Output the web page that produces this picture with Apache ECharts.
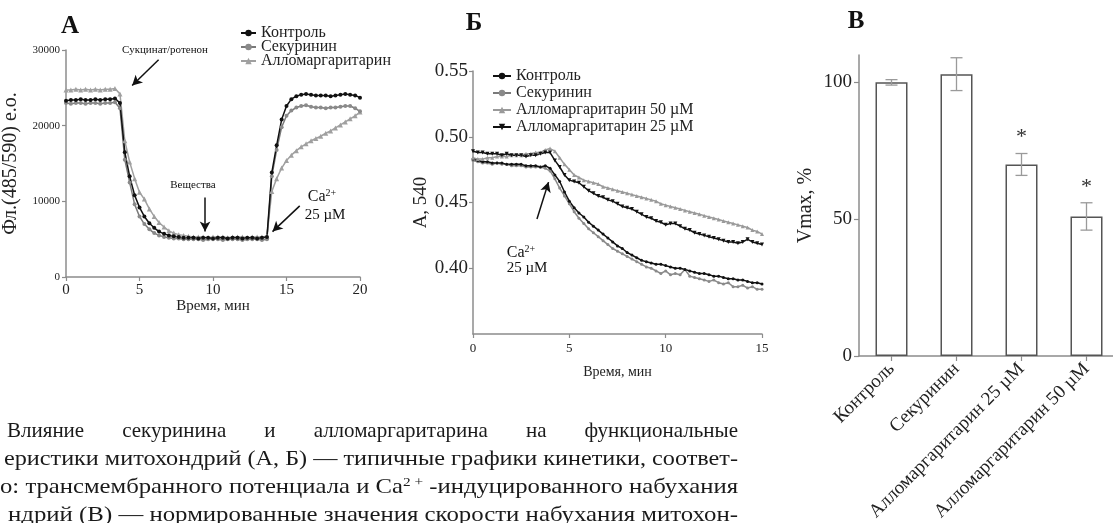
<!DOCTYPE html>
<html><head><meta charset="utf-8">
<script src="https://cdn.jsdelivr.net/npm/echarts@6/dist/echarts.min.js"></script>
<style>html,body{margin:0;padding:0;background:#fff}#c{width:1113px;height:523px}</style>
</head><body><div id="c"></div>
<script>
// ---------- Panel A: membrane potential (fluorescence) ----------
const timeA = [0,0.33,0.67,1,1.33,1.67,2,2.33,2.67,3,3.33,3.67,4,4.33,4.67,5,5.33,5.67,6,6.33,6.67,7,7.33,7.67,8,8.33,8.67,9,9.33,9.67,10,10.33,10.67,11,11.33,11.67,12,12.33,12.67,13,13.33,13.67,14,14.33,14.67,15,15.33,15.67,16,16.33,16.67,17,17.33,17.67,18,18.33,18.67,19,19.33,19.67,20];
const fluoControl = [23300,23400,23400,23500,23400,23400,23500,23400,23500,23500,23600,23000,16500,13300,10800,9200,8000,7100,6500,6000,5700,5500,5400,5300,5200,5200,
  5200,5100,5200,5200,5100,5200,5200,5100,5200,5200,5100,5200,5200,5100,5200,
  5300,13800,17400,20800,22600,23500,23900,24100,24200,24100,24000,24000,24000,23900,24000,24100,24200,24100,24000,23700];
const fluoSecur = [23000,22900,23000,23000,22900,23000,23000,22900,23000,23000,23100,22300,15500,12500,9600,8000,7000,6300,5800,5500,5300,5200,5100,5100,5000,5000,
  5000,5000,4900,5000,5000,5000,4900,5000,5000,5000,4900,5000,5000,5000,4900,
  5000,13300,16800,19800,21300,22000,22400,22600,22700,22500,22400,22400,22300,22400,22400,22500,22600,22600,22300,21900];
const fluoAllo = [24700,24700,24800,24700,24800,24700,24800,24700,24800,24800,24900,24200,18000,15200,13000,11200,10300,9000,8000,7200,6600,6100,5800,5600,5500,5400,
  5300,5300,5300,5200,5300,5300,5300,5200,5300,5300,5300,5200,5300,5300,5300,
  5400,11300,13000,14400,15400,16100,16700,17200,17600,18000,18300,18600,19000,19300,19700,20100,20500,20900,21300,21800];
const namesA = ['Контроль','Секуринин','Алломаргаритарин'];

// ---------- Panel Б: Ca-induced swelling (A540) ----------
const timeB = [0,0.25,0.5,0.75,1,1.25,1.5,1.75,2,2.25,2.5,2.75,3,3.25,3.5,3.75,4,4.25,4.5,4.75,5,5.25,5.5,5.75,6,6.25,6.5,6.75,7,7.25,7.5,7.75,8,8.25,8.5,8.75,9,9.25,9.5,9.75,10,10.25,10.5,10.75,11,11.25,11.5,11.75,12,12.25,12.5,12.75,13,13.25,13.5,13.75,14,14.25,14.5,14.75,15];
const absControl = [.483,.482,.481,.481,.480,.480,.480,.479,.479,.479,.479,.478,.478,.478,.477,.478,
  .476,.471,.466,.458,.451,.446,.442,.439,.435,.432,.429,.426,.423,.420,.417,.415,.412,.410,.408,.406,.405,.404,.403,.403,.402,.401,.400,.400,.399,.398,.397,.396,.396,.395,.394,.394,.393,.392,.392,.391,.391,.390,.389,.389,.388];
const absSecur = [.482,.481,.480,.480,.479,.480,.479,.479,.478,.478,.478,.477,.477,.477,.477,.476,
  .474,.468,.461,.455,.449,.443,.438,.434,.430,.427,.424,.421,.418,.415,.413,.411,.409,.407,.405,.403,.401,.400,.398,.396,.398,.395,.396,.395,.399,.394,.393,.392,.391,.390,.391,.389,.388,.389,.386,.386,.387,.385,.386,.384,.384];
const absAllo50 = [.484,.483,.483,.484,.484,.485,.485,.485,.486,.486,.486,.487,.487,.488,.488,.490,
  .491,.489,.484,.479,.475,.471,.469,.467,.466,.465,.464,.462,.461,.460,.459,.458,.457,.456,.455,.454,.453,.452,.451,.449,.448,.447,.446,.445,.444,.443,.442,.441,.440,.439,.438,.437,.436,.435,.434,.433,.432,.431,.429,.428,.426];
const absAllo25 = [.489,.488,.488,.487,.487,.487,.486,.487,.486,.486,.486,.485,.486,.486,.487,.488,
  .488,.482,.477,.471,.467,.466,.465,.462,.459,.457,.455,.454,.452,.451,.449,.447,.446,.445,.443,.441,.439,.438,.436,.435,.433,.434,.434,.432,.430,.429,.427,.426,.425,.424,.423,.422,.421,.420,.420,.419,.420,.422,.420,.419,.418];
const namesB = ['Контроль','Секуринин','Алломаргаритарин 50 µM','Алломаргаритарин 25 µM'];
const ticksB = [0.40,0.45,0.50,0.55];

// ---------- Panel В: normalised Vmax ----------
const catsC = ['Контроль','Секуринин','Алломаргаритарин 25 µM','Алломаргаритарин 50 µM'];
const vmax = [100,103,70,51];
const vmaxErr = [1,6,4,5];
const vmaxSig = [0,0,1,1];
const ticksC = [0,50,100];

// ---------- Caption ----------
const capWords1 = ['Влияние','секуринина','и','алломаргаритарина','на','функциональные'];
const capLine2 = 'еристики митохондрий (А, Б) — типичные графики кинетики, соответ-';
const capLine3a = 'о: трансмембранного потенциала и Ca';
const capLine3sup = '2 +';
const capLine3b = ' -индуцированного набухания';
const capLine4 = 'ндрий (В) — нормированные значения скорости набухания митохон-';

const FF = '"Liberation Serif", "Times New Roman", serif';
const AX = '#8c8c8c';
const TX = '#222';

const pairs = (xs, ys) => xs.map((x, i) => [x, ys[i]]);
const mctx = document.createElement('canvas').getContext('2d');
function tw(t, size) { mctx.font = size + 'px ' + FF; return mctx.measureText(t).width; }

const chart = echarts.init(document.getElementById('c'), null, {renderer: 'canvas'});

function axisCommon(extra) {
  return Object.assign({
    axisLine: {show: true, lineStyle: {color: AX, width: 1.5}},
    axisTick: {show: true, length: 4, lineStyle: {color: AX, width: 1.2}},
    splitLine: {show: false},
    nameTextStyle: {fontFamily: FF, color: TX}
  }, extra);
}

const arrowStyle = {color: '#111', width: 1.5, type: 'solid'};

const series = [
  // Panel A
  {name: namesA[2], type: 'line', xAxisIndex: 0, yAxisIndex: 0, data: pairs(timeA, fluoAllo),
   symbol: 'triangle', symbolSize: 5, lineStyle: {color: '#a0a0a0', width: 1.5}, itemStyle: {color: '#a0a0a0'},
   markLine: {silent: true, symbol: ['none', 'arrow'], symbolSize: [8, 10], lineStyle: arrowStyle, label: {show: false},
     data: [
       [{coord: [6.3, 28700]}, {coord: [4.5, 25300]}],
       [{coord: [9.46, 10500]}, {coord: [9.46, 6000]}],
       [{coord: [15.9, 9400]}, {coord: [14.05, 6000]}]
     ]}},
  {name: namesA[1], type: 'line', xAxisIndex: 0, yAxisIndex: 0, data: pairs(timeA, fluoSecur),
   symbol: 'circle', symbolSize: 4, lineStyle: {color: '#7a7a7a', width: 1.5}, itemStyle: {color: '#8a8a8a'}},
  {name: namesA[0], type: 'line', xAxisIndex: 0, yAxisIndex: 0, data: pairs(timeA, fluoControl),
   symbol: 'circle', symbolSize: 4, lineStyle: {color: '#111', width: 1.5}, itemStyle: {color: '#111'}},
  // Panel Б
  {name: namesB[1], type: 'line', xAxisIndex: 1, yAxisIndex: 1, data: pairs(timeB, absSecur),
   symbol: 'circle', symbolSize: 3, lineStyle: {color: '#8a8a8a', width: 1.5}, itemStyle: {color: '#8a8a8a'}},
  {name: namesB[0], type: 'line', xAxisIndex: 1, yAxisIndex: 1, data: pairs(timeB, absControl),
   symbol: 'circle', symbolSize: 3, lineStyle: {color: '#111', width: 1.5}, itemStyle: {color: '#111'}},
  {name: namesB[2], type: 'line', xAxisIndex: 1, yAxisIndex: 1, data: pairs(timeB, absAllo50),
   symbol: 'triangle', symbolSize: 4, lineStyle: {color: '#9a9a9a', width: 1.5}, itemStyle: {color: '#9a9a9a'},
   markLine: {silent: true, symbol: ['none', 'arrow'], symbolSize: [8, 10], lineStyle: arrowStyle, label: {show: false},
     data: [[{coord: [3.32, 0.4375]}, {coord: [3.92, 0.4655]}]]}},
  {name: namesB[3], type: 'line', xAxisIndex: 1, yAxisIndex: 1, data: pairs(timeB, absAllo25),
   symbol: 'triangle', symbolRotate: 180, symbolSize: 4, lineStyle: {color: '#111', width: 1.5}, itemStyle: {color: '#111'}},
  // Panel В
  {name: 'Vmax', type: 'bar', xAxisIndex: 2, yAxisIndex: 2, data: vmax, barWidth: 32,
   itemStyle: {color: '#fff', borderColor: '#555', borderWidth: 1.5}},
  {name: 'err', type: 'custom', xAxisIndex: 2, yAxisIndex: 2, z: 5,
   data: vmax.map((v, i) => [i, v, vmaxErr[i], vmaxSig[i]]),
   renderItem: function (params, api) {
     const i = api.value(0), v = api.value(1), e = api.value(2), s = api.value(3);
     const hi = api.coord([i, v + e]), lo = api.coord([i, v - e]);
     const w = 6, st = {stroke: '#9a9a9a', lineWidth: 1.3};
     const ch = [
       {type: 'line', shape: {x1: hi[0], y1: hi[1], x2: lo[0], y2: lo[1]}, style: st},
       {type: 'line', shape: {x1: hi[0] - w, y1: hi[1], x2: hi[0] + w, y2: hi[1]}, style: st},
       {type: 'line', shape: {x1: lo[0] - w, y1: lo[1], x2: lo[0] + w, y2: lo[1]}, style: st}
     ];
     if (s) ch.push({type: 'text', x: hi[0], y: hi[1] - 16,
       style: {text: '*', font: '22px ' + FF, fill: '#333', align: 'center', verticalAlign: 'middle'}});
     return {type: 'group', children: ch};
   }}
];

// caption graphics
const graphics = [];
const capSize = 21, capRight = 738;
function capText(txt, x, y, scale, rich) {
  const g = {type: 'text', x: x, y: y, scaleX: scale, silent: true,
    style: {text: txt, font: capSize + 'px ' + FF, fill: '#1a1a1a', align: 'left', verticalAlign: 'middle'}};
  if (rich) g.style.rich = rich;
  graphics.push(g);
}
// line 1 justified
(function () {
  const x0 = 7, y = 431;
  const widths = capWords1.map(w => tw(w, capSize));
  const total = widths.reduce((a, b) => a + b, 0);
  const gap = (capRight - x0 - total) / (capWords1.length - 1);
  let x = x0;
  capWords1.forEach((w, i) => { capText(w, x, y, 1); x += widths[i] + gap; });
})();
capText(capLine2, 4, 459, (capRight - 4) / tw(capLine2, capSize));
(function () {
  const w = tw(capLine3a, capSize) + tw(capLine3sup, 13) + tw(capLine3b, capSize);
  capText(capLine3a + '{sup|' + capLine3sup + '}' + capLine3b, 0, 487, (capRight - 0) / w,
    {sup: {fontSize: 13, fontFamily: FF, verticalAlign: 'top', padding: [0, 0, 9, 0]}});
})();
capText(capLine4, 8, 515, (capRight - 8) / tw(capLine4, capSize));

// panel letters and annotations
function label(txt, x, y, size, bold, rich) {
  const g = {type: 'text', x: x, y: y, silent: true,
    style: {text: txt, font: (bold ? 'bold ' : '') + size + 'px ' + FF, fill: '#111', align: 'center', verticalAlign: 'middle'}};
  if (rich) g.style.rich = rich;
  graphics.push(g);
}
label('А', 70, 27, 25, true);
label('Б', 474, 24, 25, true);
label('В', 856, 22, 25, true);
label('Сукцинат/ротенон', 165, 50, 11, false);
label('Вещества', 193, 185, 11, false);
const supRich = {sup: {fontSize: 10, fontFamily: FF, verticalAlign: 'top', padding: [0, 0, 8, 0]}};
label('Ca{sup|2+}', 322, 197, 16, false, supRich);
label('25 µM', 325, 215, 15, false);
label('Ca{sup|2+}', 521, 253, 16, false, supRich);
label('25 µM', 527, 268, 15, false);

const option = {
  animation: false,
  backgroundColor: '#ffffff',
  textStyle: {fontFamily: FF},
  grid: [
    {left: 66, top: 50, width: 294, height: 227, outerBoundsMode: 'none', containLabel: false},
    {left: 473, top: 71, width: 289, height: 263, outerBoundsMode: 'none', containLabel: false},
    {left: 859, top: 55, width: 260, height: 301, outerBoundsMode: 'none', containLabel: false}
  ],
  legend: [
    {left: 240, top: 25, orient: 'vertical', padding: 0, itemGap: -2, itemWidth: 15, itemHeight: 8,
     selectedMode: false, data: namesA,
     textStyle: {fontFamily: FF, fontSize: 16, color: TX, padding: [0, 0, 0, 0]}},
    {left: 492, top: 68, orient: 'vertical', padding: 0, itemGap: 1, itemWidth: 18, itemHeight: 8,
     selectedMode: false, data: namesB,
     textStyle: {fontFamily: FF, fontSize: 16, color: TX, padding: [0, 0, 0, 0]}}
  ],
  xAxis: [
    axisCommon({gridIndex: 0, type: 'value', min: 0, max: 20, interval: 5,
      axisLabel: {fontFamily: FF, fontSize: 15, color: TX, margin: 6},
      name: 'Время, мин', nameLocation: 'middle', nameGap: 19,
      nameTextStyle: {fontFamily: FF, fontSize: 15, color: TX}}),
    axisCommon({gridIndex: 1, type: 'value', min: 0, max: 15, interval: 5,
      axisLabel: {fontFamily: FF, fontSize: 13, color: TX, margin: 8},
      name: 'Время, мин', nameLocation: 'middle', nameGap: 31,
      nameTextStyle: {fontFamily: FF, fontSize: 14, color: TX}}),
    axisCommon({gridIndex: 2, type: 'category', data: catsC,
      axisTick: {show: true, alignWithLabel: true, length: 5, lineStyle: {color: AX, width: 1.2}},
      axisLabel: {fontFamily: FF, fontSize: 19, color: TX, rotate: 45, interval: 0, margin: 10}})
  ],
  yAxis: [
    axisCommon({gridIndex: 0, type: 'value', min: 0, max: 30000, interval: 10000,
      axisLabel: {fontFamily: FF, fontSize: 11, color: TX, margin: 6, formatter: v => String(v)},
      name: 'Фл.(485/590) е.о.', nameLocation: 'middle', nameGap: 45,
      nameTextStyle: {fontFamily: FF, fontSize: 20, color: TX}}),
    axisCommon({gridIndex: 1, type: 'value', min: 0.35, max: 0.55, interval: 0.05,
      axisTick: {show: true, length: 4, customValues: ticksB, lineStyle: {color: AX, width: 1.2}},
      axisLabel: {fontFamily: FF, fontSize: 19, color: TX, margin: 5, customValues: ticksB,
        formatter: v => v.toFixed(2)},
      name: 'A, 540', nameLocation: 'middle', nameGap: 41,
      nameTextStyle: {fontFamily: FF, fontSize: 19, color: TX}}),
    axisCommon({gridIndex: 2, type: 'value', min: 0, max: 110, interval: 50,
      axisTick: {show: true, length: 5, customValues: ticksC, lineStyle: {color: AX, width: 1.2}},
      axisLabel: {fontFamily: FF, fontSize: 19, color: TX, margin: 7, customValues: ticksC},
      name: 'Vmax, %', nameLocation: 'middle', nameGap: 43,
      nameTextStyle: {fontFamily: FF, fontSize: 20, color: TX}})
  ],
  graphic: {elements: graphics},
  series: series
};
chart.setOption(option);
</script>
</body></html>
